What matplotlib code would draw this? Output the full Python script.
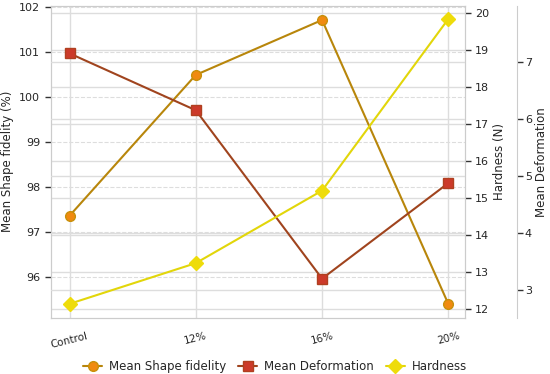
import matplotlib
matplotlib.use('Agg')
import matplotlib.pyplot as plt
import seaborn as sns

sns.set_style('whitegrid')
plt.rcParams['font.family'] = ['DejaVu Sans']

# data
groups = ['Control', '12%', '16%', '20%']
shape_fidelity = [97.36, 100.49, 101.71, 95.40]
deformation = [7.16, 6.16, 3.20, 4.88]
hardness = [12.14, 13.24, 15.20, 19.84]

x = list(range(len(groups)))

fig, ax1 = plt.subplots(figsize=(5.5, 3.74), dpi=100)
fig.subplots_adjust(left=0.092, right=0.845, top=0.985, bottom=0.15)

ax2 = ax1.twinx()
ax3 = ax1.twinx()
ax3.spines['right'].set_position(('axes', 1.125))

# all lines drawn on the top axes, each through its own scale
l1, = ax3.plot(x, shape_fidelity, color='#b8860b', lw=1.5, marker='o', ms=7,
               mfc='#f08a10', mec='#c8900a', transform=ax1.transData)
l2, = ax3.plot(x, deformation, color='#a0441e', lw=1.5, marker='s', ms=7,
               mfc='#cc3a2a', mec='#b04020')
l3, = ax3.plot(x, hardness, color='#e2d60a', lw=1.5, marker='D', ms=7,
               mfc='#eedc0a', mec='#eedc0a', transform=ax2.transData)

ax1.set_ylabel('Mean Shape fidelity (%)', fontsize=8.5)
ax1.set_ylim(95.09, 102.03)
for a in (ax1, ax2, ax3):
    a.set_xlim(-0.15, 3.13)
ax1.set_xticks(x)
ax1.set_xticklabels(groups, rotation=14, fontsize=7.5)
ax1.tick_params(axis='x', pad=6)
ax1.tick_params(axis='y', labelsize=8, length=4, left=True, width=1, color='#333333')
ax1.grid(axis='y', linestyle='--', color='#dddddd', lw=0.8)
ax1.grid(axis='x', color='#dddddd', lw=1)

ax2.set_ylabel('Hardness (N)', fontsize=8.5, labelpad=3)
ax2.set_ylim(11.76, 20.2)
ax2.tick_params(axis='y', labelsize=8, length=4, right=True, width=1, color='#333333')
ax2.grid(axis='y', color='#dddddd', lw=1)
ax2.grid(axis='x', visible=False)

ax3.set_ylabel('Mean Deformation', fontsize=8.5, labelpad=2)
ax3.set_ylim(2.51, 8.0)
ax3.set_yticks([3, 4, 5, 6, 7])
ax3.tick_params(axis='y', labelsize=8, length=4, right=True, width=1, color='#333333',
                pad=2)
ax3.grid(axis='y', color='#dddddd', lw=1)
ax3.grid(axis='x', visible=False)
for s in ['top', 'left', 'bottom']:
    ax3.spines[s].set_visible(False)

for a in (ax1, ax2, ax3):
    for s in a.spines.values():
        s.set_color('#cccccc')

fig.legend([l1, l2, l3], ['Mean Shape fidelity', 'Mean Deformation', 'Hardness'],
           loc='lower center', ncol=3, frameon=False, fontsize=8.5,
           handlelength=1.6, columnspacing=1.0, handletextpad=0.6,
           bbox_to_anchor=(0.5, -0.025))

fig.savefig('out.png', dpi=100)
